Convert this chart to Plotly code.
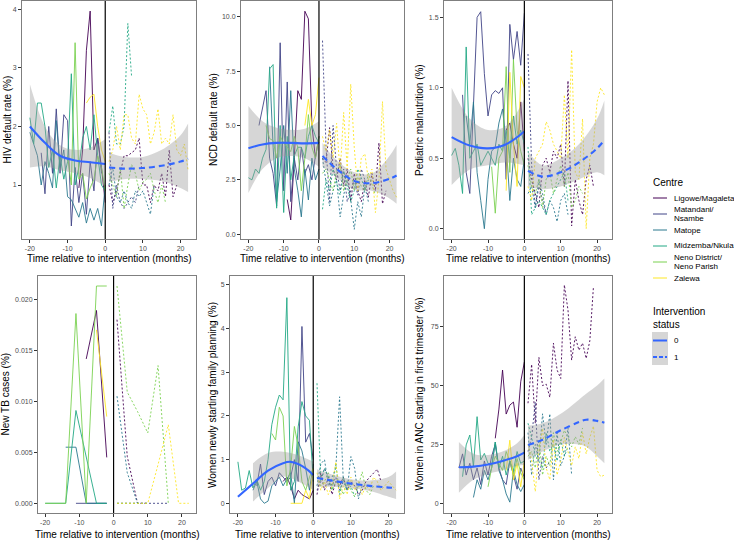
import plotly.graph_objects as go

N = None
CENTRES = ["Ligowe/Magaleta", "Matandani/Nsambe", "Matope", "Midzemba/Nkula",
           "Neno District/Neno Parish", "Zalewa"]
CENTRE_LABEL_LINES = [["Ligowe/Magaleta"], ["Matandani/", "Nsambe"], ["Matope"],
                      ["Midzemba/Nkula"], ["Neno District/", "Neno Parish"], ["Zalewa"]]
COLORS = ["#440154", "#414487", "#2A788E", "#22A884", "#7AD151", "#FDE725"]
STATUS_LABELS = ["0", "1"]

PRE_MONTHS = list(range(-20, 1))
POST_MONTHS = list(range(1, 23))
TB_PRE_MONTHS = [-20, -17, -14, -11, -8, -5, -2]
TB_POST_MONTHS = [1, 4, 7, 10, 13, 16, 19, 22]
X_TICKS = [-20, -10, 0, 10, 20]
INTERVENTION_MONTH = 0

# ---------------- HIV default rate ----------------
HIV_PRE = {
    "Ligowe/Magaleta": [N]*13 + [0.95, 1.6, 3.3, 3.97, 1.6, 1.8, 1.3, 0.7],
    "Matandani/Nsambe": [N]*3 + [1.55, 0.85, 2.0, 1.2, 2.3, 1.2, 2.2, 2.1, 0.3, 1.3, 0.7, 1.2, 0.5, 1.4, 0.9, 1.8, 1.2],
    "Matope": [1.9, 1.7, 1.5, 1.0, 1.4, 1.2, 0.95, 2.1, 1.3, 1.6, 0.8, 0.75, 0.6, 0.45, 0.7, 0.35, 0.6, 0.4, 0.6, 0.3, 1.0],
    "Midzemba/Nkula": [2.15, 1.7, 2.4, 2.4, 2.0, 1.3, 1.6, 0.95, 1.5, 1.1, 1.4, 2.9, 1.0, 1.3, 1.8, 2.0, 1.6, 2.2, 1.5, 1.0, 0.9],
    "Neno District/Neno Parish": [N]*10 + [1.5, 1.0, 3.43, 1.1, 1.2, 0.76, 0.95, 1.1, 1.5, 1.3, 0.9],
    "Zalewa": [N]*15 + [2.4, 2.5, 2.55, 2.0, 1.6, 1.4],
}
HIV_POST = {
    "Ligowe/Magaleta": [1.0, 0.7, 0.9, 1.2, 1.5, 1.5, 1.55, 1.6, 1.8, 1.0, 1.0, 0.7, 1.0, 0.9, 1.2, 0.8, 1.6, 0.8, 1.0, N, N, N],
    "Matandani/Nsambe": [1.9, 0.6, 1.0, 0.7, 0.6, 0.7, 0.8, 0.7, 1.0] + [N]*13,
    "Matope": [1.0, 1.3, 0.8, 0.7, 0.9, 0.7, 0.6, 0.9, 0.8, 0.9, 0.7, 0.5, 1.0] + [N]*9,
    "Midzemba/Nkula": [1.9, 2.35, 1.7, 1.7, 2.0, 3.76, 2.85] + [N]*15,
    "Neno District/Neno Parish": [1.2, 1.0, 0.8, 1.3, 0.6, 1.0, 1.35, 1.2, 0.9, 1.05, 1.1, 1.2, 0.9, 0.7, 1.0, 0.7] + [N]*6,
    "Zalewa": [1.4, 1.6, 2.0, 1.6, 2.2, 2.2, 1.8, 1.7, 2.55, 2.3, 2.2, 1.7, 1.9, 2.3, 1.7, 1.8, 1.7, 2.2, 1.6, 1.5, 1.7, 1.25],
}
HIV_FIT_PRE_X = [-20, -16, -12, -8, -4, 0]
HIV_FIT_PRE = [2.0, 1.72, 1.5, 1.42, 1.39, 1.36]
HIV_FIT_PRE_LO = [1.3, 1.32, 1.25, 1.2, 1.12, 0.98]
HIV_FIT_PRE_HI = [2.72, 2.0, 1.68, 1.6, 1.64, 1.78]
HIV_FIT_POST_X = [1, 5, 10, 15, 20, 22]
HIV_FIT_POST = [1.3, 1.28, 1.29, 1.33, 1.4, 1.45]
HIV_FIT_POST_LO = [1.05, 1.1, 1.1, 1.07, 0.95, 0.88]
HIV_FIT_POST_HI = [1.55, 1.48, 1.48, 1.6, 1.85, 2.05]

# ---------------- NCD default rate ----------------
NCD_PRE = {
    "Ligowe/Magaleta": [N]*11 + [1.6, 0.66, 3.5, 6.6, 6.2, 10.25, 9.9, 5.0, 3.5, 4.5],
    "Matandani/Nsambe": [N]*3 + [5.0, 5.8, 6.6, 3.5, 2.8, 1.3, 8.8, 2.0, 7.0, 1.5, 3.5, 2.5, 4.0, 2.8, 3.2, 2.5, 3.6],
    "Matope": [N]*6 + [7.7, 4.0, 1.5, 3.0, 5.0, 2.8, 6.6, 3.0, 2.0, 0.8, 3.0, 1.58, 3.5, 2.5, 3.0],
    "Midzemba/Nkula": [2.6, 2.5, 3.0, 2.8, 3.5, 3.9, 7.6, 7.8, 1.2, 5.0, 1.0, 4.5, 2.5, 3.6, 4.0, 4.0, 3.5, 4.5, 5.0, 4.5, 4.2],
    "Neno District/Neno Parish": [N]*5 + [5.0, 4.4, 4.3, 3.5, 4.5, 4.2, 4.0, 3.8, 4.5, 4.0, 2.0, 3.5, 5.5, 4.0, 3.5, 4.5],
    "Zalewa": [N]*16 + [5.0, 6.2, 5.0, 5.5, 7.2],
}
NCD_POST = {
    "Ligowe/Magaleta": [3.5, 3.3, 4.9, 3.0, 2.5, 3.5, 2.2, 3.0, 1.5, 2.8, 2.0, 1.5, 2.5, 1.7, 2.8, 2.0, 4.2, 1.4, 2.0, N, N, N],
    "Matandani/Nsambe": [8.9, 4.0, 1.5, 5.0, 3.0, 2.0, 3.0, 1.5, 2.0, 2.5, 1.8, 3.0, 2.5] + [N]*9,
    "Matope": [3.5, 2.5, 1.3, 2.0, 2.5, 0.8, 1.8, 2.5, 1.6, 0.23, 1.5, 0.8, 2.2, 1.5] + [N]*8,
    "Midzemba/Nkula": [1.15, 2.5, 2.0, 3.0, 2.4, 1.8, 2.9, 2.2, 1.5, 2.0, 3.0, 2.6, 2.0, 2.5] + [N]*8,
    "Neno District/Neno Parish": [2.8, 3.0, 2.5, 2.0, 2.9, 3.2, 2.0, 2.5, 3.0, 2.0, 2.6, 2.2, 2.0, 2.8, 2.3, 1.8] + [N]*6,
    "Zalewa": [4.5, 3.8, 4.8, 3.5, 5.1, 2.8, 5.6, 3.0, 6.9, 4.0, 2.0, 3.5, 3.7, 2.5, 3.0, 1.0, 2.5, 6.1, 3.0, 2.5, 2.0, 1.7],
}
NCD_FIT_PRE_X = [-20, -16, -12, -8, -4, 0]
NCD_FIT_PRE = [3.95, 4.13, 4.2, 4.2, 4.18, 4.2]
NCD_FIT_PRE_LO = [1.9, 3.0, 3.5, 3.6, 3.5, 3.1]
NCD_FIT_PRE_HI = [5.9, 5.2, 4.9, 4.8, 4.85, 5.2]
NCD_FIT_POST_X = [1, 5, 10, 15, 20, 22]
NCD_FIT_POST = [3.6, 3.0, 2.45, 2.35, 2.55, 2.7]
NCD_FIT_POST_LO = [3.1, 2.6, 2.05, 2.0, 1.65, 1.4]
NCD_FIT_POST_HI = [4.2, 3.4, 2.85, 2.8, 3.6, 4.1]

# ---------------- Pediatric malnutrition ----------------
MAL_PRE = {
    "Ligowe/Magaleta": [N]*15 + [0.7, 0.75, 0.6, 0.5, 0.9, 0.55],
    "Matandani/Nsambe": [N]*3 + [0.95, 0.4, 0.25, 0.9, 1.5, 1.54, 1.1, 0.8, 0.95, 0.98, 0.96, 1.0, 0.35, 1.45, 1.2, 1.4, 1.16, 1.53],
    "Matope": [N]*4 + [0.8, 0.6, 0.9, 0.4, 0.2, 0.0, 0.35, 0.55, 0.58, 0.75, 0.85, 0.6, 0.2, 0.5, 0.35, 0.3, 0.5],
    "Midzemba/Nkula": [0.52, 0.57, 0.45, 0.25, 1.29, 0.5, 0.55, 0.6, 0.45, 0.5, 0.55, 0.5, 0.45, 0.6, 0.55, 0.7, 0.5, 0.8, 0.6, 0.7, 0.6],
    "Neno District/Neno Parish": [N]*11 + [0.44, 0.11, 0.5, 0.55, 1.15, 0.4, 1.2, 0.7, 0.55, 0.45],
    "Zalewa": [N]*15 + [0.27, 1.11, 0.6, 0.3, 1.08, 1.0],
}
MAL_POST = {
    "Ligowe/Magaleta": [0.5, 0.35, 0.25, 0.15, 0.45, 0.5, 0.4, 0.55, 0.5, 0.6, 0.3, 1.05, 0.02, 0.35, 0.2, 0.1, 0.35, 0.45, 0.3, N, N, N],
    "Matandani/Nsambe": [1.24, 0.45, 0.15, 0.3, 0.2, 0.1] + [N]*16,
    "Matope": [0.25, 0.3, 0.15, 0.35, 0.25, 0.1, 0.2, 0.15, 0.05, 0.2, 0.25, 0.1] + [N]*10,
    "Midzemba/Nkula": [0.58, 0.1, 0.15, 0.2, 0.15, 0.1, 0.2, 0.25, 0.3, 0.35, 0.4, 0.2] + [N]*10,
    "Neno District/Neno Parish": [0.45, 0.3, 0.25, 0.35, 0.15, 0.35, 0.4, 0.25, 0.35, 0.45, 0.3, 0.4, 0.15, 0.2, 0.3, 0.25] + [N]*6,
    "Zalewa": [0.3, 0.2, 0.5, 0.55, 0.6, 0.76, 0.7, 0.6, 0.55, 0.5, 0.95, 0.5, 1.27, 0.4, 0.35, 0.78, 0.0, 0.5, 0.6, 0.9, 1.0, 0.95],
}
MAL_FIT_PRE_X = [-20, -15, -10, -5, 0]
MAL_FIT_PRE = [0.65, 0.59, 0.57, 0.6, 0.69]
MAL_FIT_PRE_LO = [0.31, 0.42, 0.45, 0.47, 0.45]
MAL_FIT_PRE_HI = [1.0, 0.78, 0.7, 0.73, 0.92]
MAL_FIT_POST_X = [1, 5, 10, 15, 20, 22]
MAL_FIT_POST = [0.41, 0.37, 0.4, 0.47, 0.57, 0.63]
MAL_FIT_POST_LO = [0.3, 0.28, 0.3, 0.35, 0.4, 0.38]
MAL_FIT_POST_HI = [0.55, 0.45, 0.5, 0.6, 0.78, 0.91]

# ---------------- New TB cases (quarterly) ----------------
TB_PRE = {
    "Ligowe/Magaleta": [N, N, N, N, 0.01415, 0.0189, 0.0045],
    "Matandani/Nsambe": [N, N, N, 0.0, 0.0, 0.0, 0.0],
    "Matope": [N, N, 0.0055, 0.0055, 0.0, 0.0, 0.0],
    "Midzemba/Nkula": [0.0, 0.0, 0.0, 0.0091, 0.0045, 0.0, 0.0],
    "Neno District/Neno Parish": [0.0, 0.0, 0.0, 0.0186, 0.0, 0.0213, 0.0213],
    "Zalewa": [N, N, N, N, N, 0.017, 0.0085],
}
TB_POST = {
    "Ligowe/Magaleta": [0.018, 0.0046, 0.0, 0.0, N, N, N, N],
    "Matandani/Nsambe": [0.0, 0.0, 0.0, 0.0, 0.0, 0.0, N, N],
    "Matope": [0.0105, 0.003, 0.0, N, N, N, N, N],
    "Midzemba/Nkula": [0.0, 0.0, 0.0, 0.0, N, N, N, N],
    "Neno District/Neno Parish": [0.0213, 0.0109, 0.009, 0.0069, 0.0135, 0.0, N, N],
    "Zalewa": [0.0, 0.0, 0.0, 0.0, 0.0038, 0.0077, 0.0, 0.0],
}

# ---------------- Family planning ----------------
FP_PRE = {
    "Ligowe/Magaleta": [N]*12 + [0.5, 0.6, 0.4, 0.1, 0.3, 0.2, 0.15, 0.1, 0.3],
    "Matandani/Nsambe": [N]*5 + [0.4, 0.9, 0.2, 0.5, 0.6, 0.4, 0.7, 0.6, 0.5, 0.6, 1.0, 0.5, 4.05, 1.4, 1.6, 1.0],
    "Matope": [N]*4 + [0.3, 0.5, 0.1, 0.0, 0.05, 0.4, 0.5, 0.6, 0.4, 0.55, 0.7, 0.0, 1.41, 1.2, 0.8, 0.3, 0.9],
    "Midzemba/Nkula": [0.95, 0.3, 0.35, 0.75, 0.35, 0.55, 0.3, 0.5, 1.0, 1.8, 2.2, 2.48, 2.37, 4.71, 0.3, 0.5, 1.75, 2.33, 2.0, 1.9, 0.5],
    "Neno District/Neno Parish": [N]*9 + [1.6, 1.45, 2.2, 2.0, 0.4, 0.8, 1.76, 1.3, 0.5, 0.3, 0.6, 0.8],
    "Zalewa": [N]*14 + [0.0, 0.0, 0.0, 0.0, 0.3, 0.1, 0.8],
}
FP_POST = {
    "Ligowe/Magaleta": [0.2, 0.7, 0.3, 0.6, 0.2, 0.5, 0.4, 0.6, 0.3, 0.5, 0.4, 0.2, 0.3, 0.5, 0.6, 0.7, 0.78, 0.5] + [N]*4,
    "Matandani/Nsambe": [0.3, 0.5, 0.8, 0.6, 0.4, 0.6, 0.3, 0.5] + [N]*14,
    "Matope": [0.4, 0.9, 1.0, 0.4, 0.6, 0.8, 2.44, 0.5, 0.3, 1.07, 0.8, 0.1, 0.4] + [N]*9,
    "Midzemba/Nkula": [2.75, 0.5, 0.8, 0.6, 0.3, 0.9, 0.2, 0.6, 0.3, 0.4, 0.15] + [N]*11,
    "Neno District/Neno Parish": [0.6, 0.4, 0.5, 0.7, 0.3, 0.5, 0.4, 0.2, 0.5, 0.3, 0.15, 0.4, 0.72, 0.3, 0.2, 0.4] + [N]*6,
    "Zalewa": [0.7, 0.3, 0.5, 0.2, 0.4, 0.95, 0.1, 0.4, 0.2, 0.6, 0.3, 0.5, 0.2, 0.4, 0.3, 0.6, 0.5, 0.3, 0.4, 0.5, 0.4, 0.3],
}
FP_FIT_PRE_X = [-20, -16, -12, -8, -6, -4, -2, 0]
FP_FIT_PRE = [0.15, 0.45, 0.75, 0.92, 0.95, 0.9, 0.8, 0.65]
FP_BAND_PRE_X = [-16, -12, -8, -4, 0]
FP_FIT_PRE_LO = [0.04, 0.35, 0.61, 0.5, 0.3]
FP_FIT_PRE_HI = [0.92, 1.15, 1.18, 1.1, 0.95]
FP_FIT_POST_X = [1, 5, 10, 15, 20, 22]
FP_FIT_POST = [0.58, 0.52, 0.45, 0.4, 0.36, 0.35]
FP_FIT_POST_LO = [0.38, 0.38, 0.35, 0.28, 0.15, 0.1]
FP_FIT_POST_HI = [0.78, 0.66, 0.55, 0.52, 0.6, 0.73]

# ---------------- ANC first trimester ----------------
ANC_PRE = {
    "Ligowe/Magaleta": [N]*12 + [27.6, 40, 56.6, 37.9, 41.7, 43, 32.3, 51.6, 60],
    "Matandani/Nsambe": [N]*2 + [15, 21, 12, 17, 10, 15, 8, 18, 12, 20, 25, 15, 10, 8, 18, 12, 6, 15, 11],
    "Matope": [N]*6 + [2.5, 10, 6, 14, 10, 15, 26, 14, 10, 4, 0.5, 14, 8, 5, 8],
    "Midzemba/Nkula": [N]*3 + [11.3, 24.8, 29, 15.6, 36.8, 18.4, 21.2, 17, 16, 26, 15, 20, 12, 18, 14, 22, 17, 18],
    "Neno District/Neno Parish": [N]*10 + [7, 15, 20, 17, 14, 22, 18, 12, 19, 13, 10],
    "Zalewa": [N]*15 + [14, 26.8, 10, 17, 7, 18],
}
ANC_POST = {
    "Ligowe/Magaleta": [42.5, 59, 34, 62, 50, 50.6, 45, 68, 56.6, 53, 92.7, 82, 60.8, 70.7, 65, 68, 61.5, 69, 92, N, N, N],
    "Matandani/Nsambe": [22, 28, 43, 10, 20, 15, 18] + [N]*15,
    "Matope": [30, 12, 25, 18, 38, 25, 38, 10, 30, 16, 20, 32, 12] + [N]*9,
    "Midzemba/Nkula": [34, 28, 20, 18, 15, 30, 22, 25, 18, 27, 20, 24] + [N]*10,
    "Neno District/Neno Parish": [20, 22, 15, 27, 12, 20, 16, 30, 22, 26, 31, 28, 24, 28.3, 25, 32] + [N]*6,
    "Zalewa": [25, 18, 5, 22, 31.8, 15, 10, 27, 12, 18, 28, 22, 16, 24, 19, 30, 21, 28, 32.8, 14, 11.3, 12],
}
ANC_FIT_PRE_X = [-18, -14, -10, -6, -2, 0]
ANC_FIT_PRE = [15.3, 15.6, 16.5, 18, 20, 21.5]
ANC_FIT_PRE_LO = [4.5, 10, 12.5, 14, 16, 16.3]
ANC_FIT_PRE_HI = [26, 21, 20.5, 22, 25.5, 29]
ANC_FIT_POST_X = [1, 5, 10, 15, 17, 20, 22]
ANC_FIT_POST = [24.8, 27, 31, 34.5, 35.5, 35, 34.2]
ANC_FIT_POST_LO = [18.5, 22, 25, 25, 24, 20, 17]
ANC_FIT_POST_HI = [33, 34, 38, 44, 46.5, 50, 53]

# ---------------- panel assembly ----------------
W, H = 734, 540
def fx(p): return p / W
def fy(p): return 1 - p / H

FONT = "Liberation Sans, Arial, Helvetica, sans-serif"
BLUE = "#3366FF"
BAND = "rgba(153,153,153,0.4)"

PANELS = [
    dict(title="HIV default rate (%)", pre=HIV_PRE, post=HIV_POST, pm=PRE_MONTHS, qm=POST_MONTHS,
         fit=(HIV_FIT_PRE_X, HIV_FIT_PRE, HIV_FIT_PRE_X, HIV_FIT_PRE_LO, HIV_FIT_PRE_HI,
              HIV_FIT_POST_X, HIV_FIT_POST, HIV_FIT_POST_LO, HIV_FIT_POST_HI),
         px=(22, 196), py=(1, 239), yr=[0.078, 4.142], tv=[1, 2, 3, 4], tt=["1", "2", "3", "4"], tx=6.5),
    dict(title="NCD default rate (%)", pre=NCD_PRE, post=NCD_POST, pm=PRE_MONTHS, qm=POST_MONTHS,
         fit=(NCD_FIT_PRE_X, NCD_FIT_PRE, NCD_FIT_PRE_X, NCD_FIT_PRE_LO, NCD_FIT_PRE_HI,
              NCD_FIT_POST_X, NCD_FIT_POST, NCD_FIT_POST_LO, NCD_FIT_POST_HI),
         px=(241, 404), py=(1, 239), yr=[-0.216, 10.72], tv=[0, 2.5, 5, 7.5, 10],
         tt=["0.0", "2.5", "5.0", "7.5", "10.0"], tx=213),
    dict(title="Pediatric malnutrition (%)", pre=MAL_PRE, post=MAL_POST, pm=PRE_MONTHS, qm=POST_MONTHS,
         fit=(MAL_FIT_PRE_X, MAL_FIT_PRE, MAL_FIT_PRE_X, MAL_FIT_PRE_LO, MAL_FIT_PRE_HI,
              MAL_FIT_POST_X, MAL_FIT_POST, MAL_FIT_POST_LO, MAL_FIT_POST_HI),
         px=(444, 612), py=(1, 239), yr=[-0.073, 1.616], tv=[0, 0.5, 1.0, 1.5],
         tt=["0.0", "0.5", "1.0", "1.5"], tx=419),
    dict(title="New TB cases (%)", pre=TB_PRE, post=TB_POST, pm=TB_PRE_MONTHS, qm=TB_POST_MONTHS,
         fit=None, px=(38, 196), py=(276, 513), yr=[-0.00095, 0.02228],
         tv=[0, 0.005, 0.01, 0.015, 0.02], tt=["0.000", "0.005", "0.010", "0.015", "0.020"], tx=5),
    dict(title="Women newly starting family planning (%)", pre=FP_PRE, post=FP_POST, pm=PRE_MONTHS, qm=POST_MONTHS,
         fit=(FP_FIT_PRE_X, FP_FIT_PRE, FP_BAND_PRE_X, FP_FIT_PRE_LO, FP_FIT_PRE_HI,
              FP_FIT_POST_X, FP_FIT_POST, FP_FIT_POST_LO, FP_FIT_POST_HI),
         px=(230, 404), py=(276, 513), yr=[-0.222, 5.206], tv=[0, 1, 2, 3, 4, 5],
         tt=["0", "1", "2", "3", "4", "5"], tx=212.5),
    dict(title="Women in ANC starting in first trimester (%)", pre=ANC_PRE, post=ANC_POST, pm=PRE_MONTHS, qm=POST_MONTHS,
         fit=(ANC_FIT_PRE_X, ANC_FIT_PRE, ANC_FIT_PRE_X, ANC_FIT_PRE_LO, ANC_FIT_PRE_HI,
              ANC_FIT_POST_X, ANC_FIT_POST, ANC_FIT_POST_LO, ANC_FIT_POST_HI),
         px=(444, 612), py=(276, 513), yr=[-4.1, 96.5], tv=[0, 25, 50, 75],
         tt=["0", "25", "50", "75"], tx=419),
]

fig = go.Figure()
annotations = []
shapes = []
layout_axes = {}

for i, p in enumerate(PANELS, start=1):
    xa = "x" if i == 1 else f"x{i}"
    ya = "y" if i == 1 else f"y{i}"
    # centre lines
    for c, col in zip(CENTRES, COLORS):
        fig.add_trace(go.Scatter(x=p["pm"], y=p["pre"][c], mode="lines", xaxis=xa, yaxis=ya,
                                 line=dict(color=col, width=0.9), hoverinfo="skip"))
        fig.add_trace(go.Scatter(x=p["qm"], y=p["post"][c], mode="lines", xaxis=xa, yaxis=ya,
                                 line=dict(color=col, width=0.9, dash="2px,2px"), hoverinfo="skip"))
    # smooth with band
    if p["fit"] is not None:
        (prx, pry, pbx, plo, phi, qx, qy, qlo, qhi) = p["fit"]
        for bx, lo, hi, sx, sy, dash in ((pbx, plo, phi, prx, pry, "solid"),
                                         (qx, qlo, qhi, qx, qy, "6px,4px")):
            fig.add_trace(go.Scatter(x=bx, y=lo, mode="lines", xaxis=xa, yaxis=ya,
                                     line=dict(width=0, shape="spline", color="rgba(0,0,0,0)"),
                                     hoverinfo="skip"))
            fig.add_trace(go.Scatter(x=bx, y=hi, mode="lines", xaxis=xa, yaxis=ya, fill="tonexty",
                                     fillcolor=BAND, line=dict(width=0, shape="spline", color="rgba(0,0,0,0)"),
                                     hoverinfo="skip"))
            fig.add_trace(go.Scatter(x=sx, y=sy, mode="lines", xaxis=xa, yaxis=ya,
                                     line=dict(color=BLUE, width=2.1, dash=dash, shape="spline"),
                                     hoverinfo="skip"))
    # intervention line
    shapes.append(dict(type="line", xref=xa, yref=f"{ya} domain", x0=INTERVENTION_MONTH,
                       x1=INTERVENTION_MONTH, y0=0, y1=1, line=dict(color="black", width=1.2),
                       layer="above"))
    xd = [fx(p["px"][0]), fx(p["px"][1])]
    yd = [fy(p["py"][1]), fy(p["py"][0])]
    axis_common = dict(showgrid=False, zeroline=False, showline=True, mirror=True,
                       linecolor="#7f7f7f", linewidth=1, ticks="outside", ticklen=3,
                       tickwidth=1, tickcolor="#333333",
                       tickfont=dict(family=FONT, size=7, color="#4D4D4D"))
    layout_axes["xaxis" if i == 1 else f"xaxis{i}"] = dict(
        domain=xd, range=[-22.1, 24.1], tickvals=X_TICKS, ticktext=[str(t) for t in X_TICKS],
        anchor=ya, **axis_common)
    layout_axes["yaxis" if i == 1 else f"yaxis{i}"] = dict(
        domain=yd, range=p["yr"], tickvals=p["tv"], ticktext=p["tt"], anchor=xa, **axis_common)
    # axis titles
    xt_y = 258 if p["py"][0] < 100 else 534
    annotations.append(dict(text="Time relative to intervention (months)", xref="paper", yref="paper",
                            x=(xd[0] + xd[1]) / 2, y=fy(xt_y), xanchor="center", yanchor="middle",
                            showarrow=False, font=dict(family=FONT, size=10, color="black")))
    annotations.append(dict(text=p["title"], xref="paper", yref="paper", textangle=-90,
                            x=fx(p["tx"]), y=(yd[0] + yd[1]) / 2, xanchor="center", yanchor="middle",
                            showarrow=False, font=dict(family=FONT, size=10, color="black")))

# ---------------- legends (drawn manually) ----------------
def txt(s, x, y, size):
    annotations.append(dict(text=s, xref="paper", yref="paper", x=fx(x), y=fy(y), xanchor="left",
                            yanchor="middle", showarrow=False,
                            font=dict(family=FONT, size=size, color="black")))

txt("Centre", 651, 182, 10)
entry_y = [198, 214, 230, 246, 262, 278]
for lines, col, cy in zip(CENTRE_LABEL_LINES, COLORS, entry_y):
    shapes.append(dict(type="line", xref="paper", yref="paper", x0=fx(653), x1=fx(667),
                       y0=fy(cy), y1=fy(cy), line=dict(color=col, width=1)))
    if len(lines) == 1:
        txt(lines[0], 672, cy, 8)
    else:
        txt(lines[0], 672, cy - 4.6, 8)
        txt(lines[1], 672, cy + 4.6, 8)

txt("Intervention", 651, 312, 10)
txt("status", 651, 324.5, 10)
shapes.append(dict(type="rect", xref="paper", yref="paper", x0=fx(652), x1=fx(668),
                   y0=fy(365), y1=fy(332), fillcolor=BAND, line=dict(width=0)))
for lab, cy, dash in zip(STATUS_LABELS, [340.5, 357], ["solid", "4px,2px"]):
    shapes.append(dict(type="line", xref="paper", yref="paper", x0=fx(653), x1=fx(667),
                       y0=fy(cy), y1=fy(cy), line=dict(color=BLUE, width=2, dash=dash)))
    txt(lab, 672, cy, 8)

fig.update_layout(width=W, height=H, margin=dict(l=0, r=0, t=0, b=0), showlegend=False,
                  paper_bgcolor="white", plot_bgcolor="white", font=dict(family=FONT),
                  annotations=annotations, shapes=shapes, **layout_axes)

fig.write_html("out.html", config={"displayModeBar": False, "staticPlot": True},
               post_script="document.body.style.margin='0';document.body.style.padding='0';"
                           "document.body.style.overflow='hidden';")
